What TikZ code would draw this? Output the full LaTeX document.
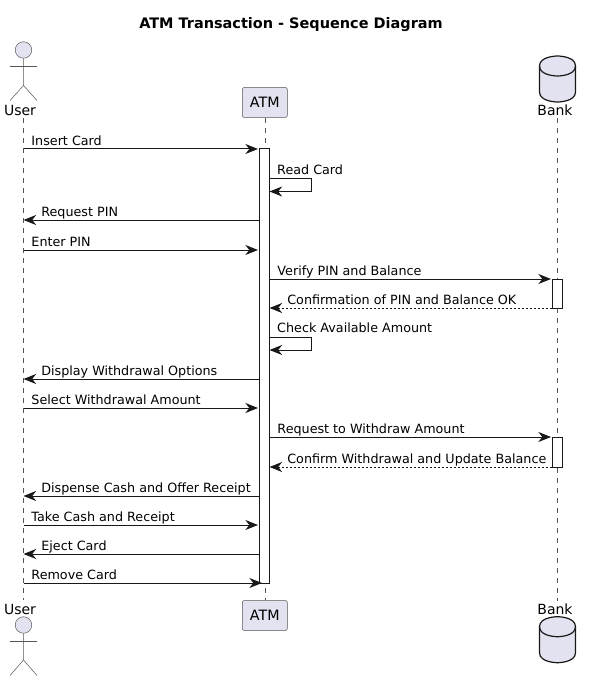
\documentclass[tikz,border=0pt]{standalone}
\usepackage{fontspec}
\setmainfont{DejaVu Sans}
\usetikzlibrary{positioning, arrows.meta}
\definecolor{partfill}{HTML}{E2E2F0}
\definecolor{partline}{HTML}{181818}
\definecolor{thinline}{HTML}{555555}
\tikzset{
    msg/.style={draw=partline, line width=.75pt, -{Stealth[length=9.5pt, width=7.5pt, inset=3pt]}},
    reply/.style={msg, dash pattern=on 1.5pt off 1.5pt},
    lifeline/.style={draw=thinline, line width=.375pt, dash pattern=on 3.75pt off 3.75pt},
    lbl/.style={inner sep=0pt, anchor=base west, font=\fontsize{9.55}{12}\selectfont, text=black, yshift=2.6pt},
    partname/.style={inner sep=0pt, font=\fontsize{10.5}{12}\selectfont, text=black},
    atmbox/.style={draw=thinline, line width=.375pt, fill=partfill, rounded corners=1.5pt, minimum width=33.75pt, minimum height=22.5pt, inner sep=0pt, font=\fontsize{10.7}{12}\selectfont},
    head/.style={circle, draw=thinline, line width=.375pt, fill=partfill, minimum size=12.4pt, inner sep=0pt},
    limb/.style={draw=thinline, line width=.375pt},
    activation/.style={draw=partline, line width=.75pt, fill=white, minimum width=7.5pt, inner sep=0pt},
    bankdrum/.pic={
        \path[draw=partline, line width=.9pt, fill=partfill] (0,10) .. controls (0,0) and (18,0) .. (18,0) .. controls (18,0) and (36,0) .. (36,10) -- (36,36) .. controls (36,46) and (18,46) .. (18,46) .. controls (18,46) and (0,46) .. (0,36) -- cycle;
        \path[draw=partline, line width=.9pt] (0,10) .. controls (0,20) and (18,20) .. (18,20) .. controls (18,20) and (36,20) .. (36,10);
    },
}
\begin{document}
\begin{tikzpicture}[x=.75pt, y=-.75pt]
    \useasboundingbox (0,0) rectangle (591,681);
    \node[font=\bfseries\fontsize{10.85}{12}\selectfont, inner sep=0pt] (title) at (291,24.5) {ATM Transaction - Sequence Diagram};
    % lifeline ends
    \coordinate (userTop) at (23.5,118);
    \coordinate (userBottom) at (23.5,600);
    \coordinate (bankTop) at (557.5,118);
    \coordinate (bankBottom) at (557.5,601);
    % participants, top
    \node[head] (userHead) at (23.5,50) {};
    \coordinate (userHip) at (23.5,85.5);
    \draw[limb] (userHead.south)--(userHip)--(10,100.5);
    \draw[limb] (userHip)--(37,100.5);
    \draw[limb] (10,66)--(37,66);
    \node[partname] (userName) at (20,110) {User};
    \node[atmbox] (atmTop) at (264.8,102.5) {ATM};
    \pic (bankShape) at (539.5,56) {bankdrum};
    \node[partname] (bankName) at (555,110) {Bank};
    % participants, bottom
    \node[partname] (userNameB) at (20,609) {User};
    \node[head] (userHeadB) at (23.5,625) {};
    \coordinate (userHipB) at (23.5,660);
    \draw[limb] (userHeadB.south)--(userHipB)--(10,675.5);
    \draw[limb] (userHipB)--(37,675.5);
    \draw[limb] (10,641)--(37,641);
    \node[atmbox] (atmBottom) at (264.8,615.5) {ATM};
    \node[partname] (bankNameB) at (555,609) {Bank};
    \pic (bankShapeB) at (539.5,616.7) {bankdrum};
    % lifelines
    \draw[lifeline] (userTop)--(userBottom);
    \draw[lifeline] (atmTop)--(atmBottom);
    \draw[lifeline] (bankTop)--(bankBottom);
    % activations
    \node[activation, minimum height=325.5pt] (atmActive) at (264.5,366) {};
    \node[activation, minimum height=21.75pt] (bankCheck) at (557.5,293.5) {};
    \node[activation, minimum height=22.5pt] (bankDraw) at (557.5,452) {};
    % arrow end columns
    \coordinate (atmIn) at (258,0);
    \coordinate (atmOut) at (259.5,0);
    \coordinate (atmSide) at (269.5,0);
    \coordinate (atmLoop) at (311.5,0);
    \coordinate (atmLast) at (262,0);
    \coordinate (bankIn) at (551,0);
    \coordinate (bankOut) at (552,0);
    % message rows
    \coordinate (rowInsert) at (0,149);
    \coordinate (rowRead) at (0,178.5);
    \coordinate (rowReadEnd) at (0,191.5);
    \coordinate (rowRequest) at (0,220);
    \coordinate (rowEnter) at (0,250);
    \coordinate (rowVerify) at (0,279);
    \coordinate (rowConfirm) at (0,308);
    \coordinate (rowCheck) at (0,337.5);
    \coordinate (rowCheckEnd) at (0,350);
    \coordinate (rowDisplay) at (0,379);
    \coordinate (rowSelect) at (0,408);
    \coordinate (rowDraw) at (0,437);
    \coordinate (rowUpdate) at (0,467);
    \coordinate (rowDispense) at (0,496);
    \coordinate (rowTake) at (0,525);
    \coordinate (rowEject) at (0,554);
    \coordinate (rowRemove) at (0,583);
    % messages
    \draw[msg] (userTop|-rowInsert)--(atmIn|-rowInsert) node[lbl, at start, xshift=5.6pt] (insertCard) {Insert Card};
    \draw[msg] (atmSide|-rowRead)-|(atmLoop|-rowReadEnd)--(atmSide|-rowReadEnd);
    \node[lbl, xshift=5.6pt, yshift=.4pt] (readCard) at (atmSide|-rowRead) {Read Card};
    \draw[msg] (atmOut|-rowRequest)--(userTop|-rowRequest) node[lbl, at end, xshift=13pt] (requestPin) {Request PIN};
    \draw[msg] (userTop|-rowEnter)--(atmIn|-rowEnter) node[lbl, at start, xshift=5.6pt] (enterPin) {Enter PIN};
    \draw[msg] (atmSide|-rowVerify)--(bankIn|-rowVerify) node[lbl, at start, xshift=5.6pt] (verifyPin) {Verify PIN and Balance};
    \draw[reply] (bankOut|-rowConfirm)--(atmSide|-rowConfirm) node[lbl, at end, xshift=13pt] (confirmPin) {Confirmation of PIN and Balance OK};
    \draw[msg] (atmSide|-rowCheck)-|(atmLoop|-rowCheckEnd)--(atmSide|-rowCheckEnd);
    \node[lbl, xshift=5.6pt, yshift=1pt] (checkAmount) at (atmSide|-rowCheck) {Check Available Amount};
    \draw[msg] (atmOut|-rowDisplay)--(userTop|-rowDisplay) node[lbl, at end, xshift=13pt] (displayOptions) {Display Withdrawal Options};
    \draw[msg] (userTop|-rowSelect)--(atmIn|-rowSelect) node[lbl, at start, xshift=5.6pt] (selectAmount) {Select Withdrawal Amount};
    \draw[msg] (atmSide|-rowDraw)--(bankIn|-rowDraw) node[lbl, at start, xshift=5.6pt] (requestDraw) {Request to Withdraw Amount};
    \draw[reply] (bankOut|-rowUpdate)--(atmSide|-rowUpdate) node[lbl, at end, xshift=13pt] (confirmDraw) {Confirm Withdrawal and Update Balance};
    \draw[msg] (atmOut|-rowDispense)--(userTop|-rowDispense) node[lbl, at end, xshift=13pt] (dispenseCash) {Dispense Cash and Offer Receipt};
    \draw[msg] (userTop|-rowTake)--(atmIn|-rowTake) node[lbl, at start, xshift=5.6pt] (takeCash) {Take Cash and Receipt};
    \draw[msg] (atmOut|-rowEject)--(userTop|-rowEject) node[lbl, at end, xshift=13pt] (ejectCard) {Eject Card};
    \draw[msg] (userTop|-rowRemove)--(atmLast|-rowRemove) node[lbl, at start, xshift=5.6pt] (removeCard) {Remove Card};
\end{tikzpicture}
\end{document}
